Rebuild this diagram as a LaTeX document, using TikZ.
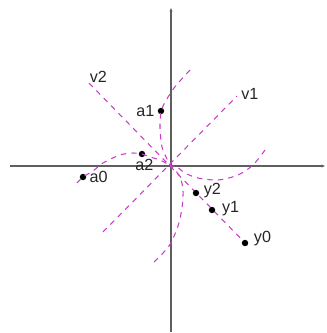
\documentclass[tikz,border=0pt]{standalone}
\usepackage{fontspec}
\setmainfont{Liberation Sans}
\usetikzlibrary{positioning,arrows.meta}
\definecolor{traj}{RGB}{200,60,200}
\definecolor{axisgray}{RGB}{95,95,95}
\begin{document}
\begin{tikzpicture}[x=0.03cm,y=0.03cm,
  axis/.style={draw=axisgray,line width=1.1pt,-{Stealth[length=3pt,width=2.5pt]}},
  orbit/.style={draw=traj,line width=0.9pt,dash pattern=on 4.6pt off 4.4pt},
  dot/.style={circle,fill=black,minimum size=5.5pt,inner sep=0pt},
  tag/.style={inner sep=0.5pt,text=black!85,font=\fontsize{13.8}{16}\selectfont}]
\path[use as bounding box] (-171,-167) rectangle (155,166);
\coordinate (O) at (0,0);
\coordinate (xl) at (-161,0);
\coordinate (xr) at (154,0);
\coordinate (yb) at (0,-166);
\coordinate (yt) at (0,158);
\draw[axis] (xl) -- (xr);
\draw[axis] (yb) -- (yt);
% straight lines
\coordinate (v1s) at (-68,-66);
\coordinate (v1e) at (66,70);
\coordinate (v2s) at (-82,83);
\coordinate (v2e) at (79,-82);
\draw[orbit] (v1s) -- (v1e);
\draw[orbit] (v2s) -- (v2e);
% points
\node[dot] (a0) at (-88,-11) {};
\node[dot] (a1) at (-10,55) {};
\node[dot] (a2) at (-29,12) {};
\node[dot] (y0) at (74,-77) {};
\node[dot] (y1) at (41,-44) {};
\node[dot] (y2) at (25,-27) {};
% curves
\draw[orbit] plot[smooth] coordinates {(19,96) (3,78) (-7,62) (a1.center) (-11,38) (-9,19) (-3,5) (O)};
\draw[orbit] plot[smooth] coordinates {(-17,-96) (-2,-80) (7,-60) (11,-42) (12,-24) (9,-11) (3,-3) (O)};
\draw[orbit] plot[smooth] coordinates {(-94,-17) (a0.center) (-78,-5) (-68,3) (-51,11) (-38,13) (a2.center) (-21,9) (-11,6) (O)};
\draw[orbit] plot[smooth] coordinates {(94,16) (82,1) (67,-9) (47,-14) (27,-12) (14,-7) (6,-1) (O)};
% labels
\node[tag,right=2pt of a0] (a0-t) {a0};
\node[tag,left=2pt of a1] (a1-t) {a1};
\node[tag,below=0.5pt of a2,xshift=2pt] (a2-t) {a2};
\node[tag,right=3pt of y2,yshift=2.5pt] (y2-t) {y2};
\node[tag,right=5pt of y1,yshift=1.5pt] (y1-t) {y1};
\node[tag,right=4pt of y0,yshift=4pt] (y0-t) {y0};
\node[tag,right=3pt of v1e,yshift=2pt] (v1-t) {v1};
\node[tag,above right=0pt and 0pt of v2s] (v2-t) {v2};
\end{tikzpicture}
\end{document}
